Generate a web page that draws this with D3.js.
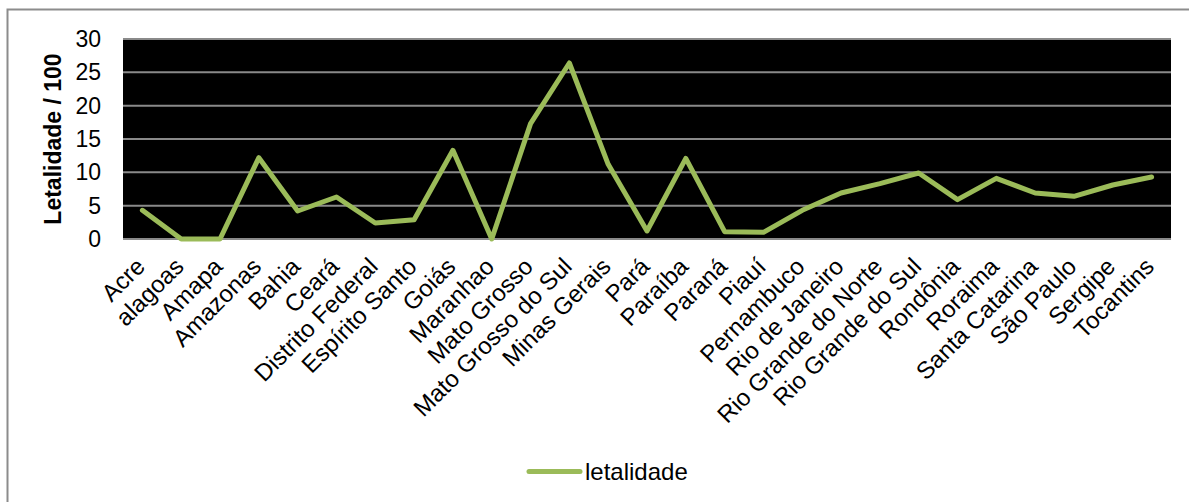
<!DOCTYPE html>
<html>
<head>
<meta charset="utf-8">
<script src="https://cdn.jsdelivr.net/npm/d3@7"></script>
<style>
  body { margin: 0; background: #fff; }
  text { font-family: "Liberation Sans", Arial, sans-serif; }
</style>
</head>
<body>
<div id="chart"></div>
<script>
// data
var estados = ["Acre", "alagoas", "Amapa", "Amazonas", "Bahia", "Ceará", "Distrito Federal",
  "Espírito Santo", "Goiás", "Maranhao", "Mato Grosso", "Mato Grosso do Sul", "Minas Gerais",
  "Pará", "Paraíba", "Paraná", "Piauí", "Pernambuco", "Rio de Janeiro", "Rio Grande do Norte",
  "Rio Grande do Sul", "Rondônia", "Roraima", "Santa Catarina", "São Paulo", "Sergipe", "Tocantins"];
var letalidade = [4.3, 0, 0, 12.2, 4.2, 6.3, 2.4, 2.9, 13.3, 0, 17.3, 26.4, 11.2,
  1.2, 12.1, 1.1, 1.0, 4.3, 6.9, 8.3, 9.9, 5.9, 9.1, 6.9, 6.4, 8.1, 9.3];
var yTicks = [0, 5, 10, 15, 20, 25, 30];
var serieNome = "letalidade";

var W = 1189, H = 502;
var margin = {top: 39, right: 18, bottom: 263, left: 123};
var visWidth = W - margin.left - margin.right;
var visHeight = H - margin.top - margin.bottom;

var svg = d3.select("#chart").append("svg")
    .attr("width", W)
    .attr("height", H);

// outer chart border
svg.append("rect")
    .attr("x", 7.5).attr("y", 9.5)
    .attr("width", 1200).attr("height", 520)
    .attr("fill", "none")
    .attr("stroke", "#8c8c8c")
    .attr("stroke-width", 2);

var x = d3.scaleBand()
    .domain(estados)
    .range([0, visWidth]);

var y = d3.scaleLinear()
    .domain([0, 30])
    .range([visHeight, 0]);

var g = svg.append("g")
    .attr("transform", `translate(${margin.left}, ${margin.top})`);

// plot background
g.append("rect")
    .attr("width", visWidth)
    .attr("height", visHeight)
    .attr("fill", "#000");

// gridlines
g.selectAll(".grid")
  .data(yTicks)
  .join("line")
    .attr("class", "grid")
    .attr("x1", 0)
    .attr("x2", visWidth)
    .attr("y1", d => y(d))
    .attr("y2", d => y(d))
    .attr("stroke", "#8a8a8a")
    .attr("stroke-width", 2);

// y axis
var yAxis = g.append("g")
    .call(d3.axisLeft(y).tickValues(yTicks).tickSize(0).tickPadding(22));
yAxis.select(".domain").remove();
yAxis.selectAll("text")
    .attr("font-size", "23px")
    .attr("fill", "#000")
    .style("font-family", "Liberation Sans, Arial, sans-serif");

// x axis
var xAxis = g.append("g")
    .attr("transform", `translate(0, ${visHeight})`)
    .call(d3.axisBottom(x).tickSize(0).tickPadding(0));
xAxis.select(".domain").remove();
xAxis.selectAll("text")
    .attr("font-size", "24px")
    .attr("fill", "#000")
    .style("font-family", "Liberation Sans, Arial, sans-serif")
    .attr("text-anchor", "end")
    .attr("dy", "0")
    .attr("transform", "translate(4, 29) rotate(-45)");

// line
var line = d3.line()
    .x((d, i) => x(estados[i]) + x.bandwidth() / 2)
    .y(d => y(d));

g.append("path")
    .datum(letalidade)
    .attr("d", line)
    .attr("fill", "none")
    .attr("stroke", "#9bbb59")
    .attr("stroke-width", 5)
    .attr("stroke-linejoin", "round")
    .attr("stroke-linecap", "round");

// y axis title
svg.append("text")
    .attr("transform", "translate(61, 139) rotate(-90)")
    .attr("text-anchor", "middle")
    .attr("font-size", "23px")
    .attr("font-weight", "bold")
    .text("Letalidade / 100");

// legend
svg.append("line")
    .attr("x1", 529).attr("x2", 580)
    .attr("y1", 471.5).attr("y2", 471.5)
    .attr("stroke", "#9bbb59")
    .attr("stroke-width", 5)
    .attr("stroke-linecap", "round");
svg.append("text")
    .attr("x", 585)
    .attr("y", 480)
    .attr("font-size", "24px")
    .text(serieNome);
</script>
</body>
</html>
